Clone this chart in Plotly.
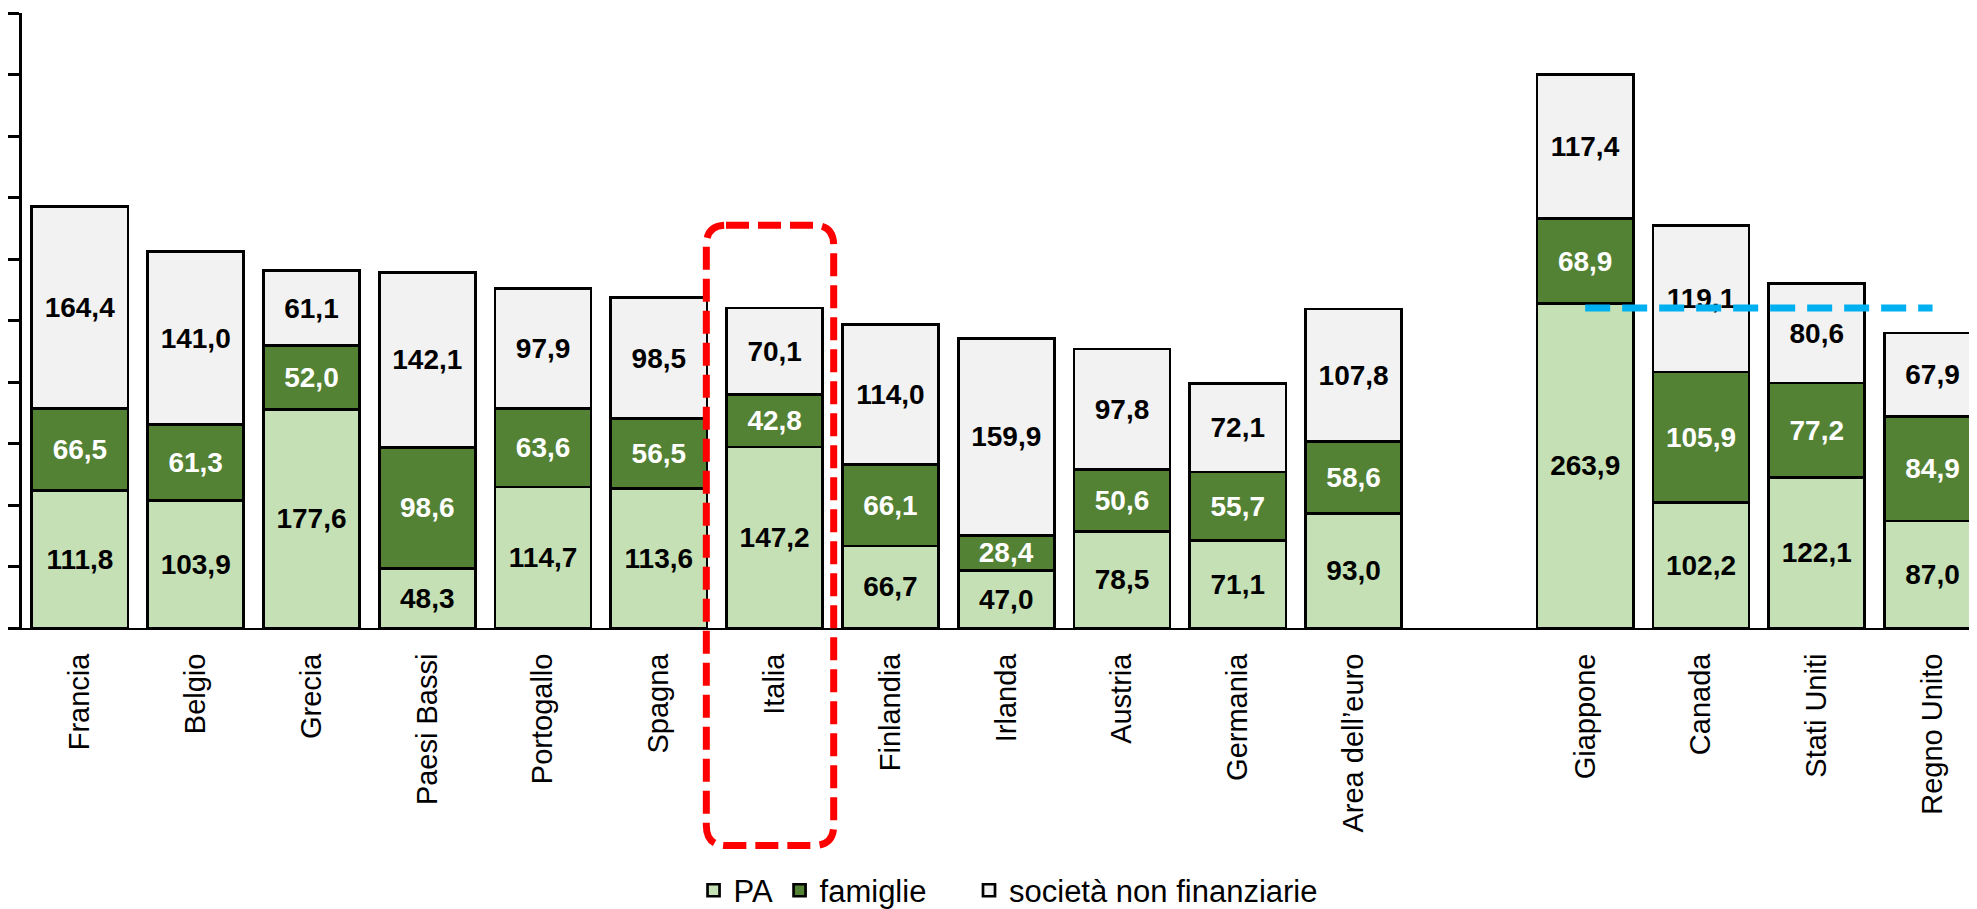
import plotly.graph_objects as go

# ---- data ----
categories = ["Francia", "Belgio", "Grecia", "Paesi Bassi", "Portogallo", "Spagna", "Italia",
              "Finlandia", "Irlanda", "Austria", "Germania", "Area dell’euro", " ",
              "Giappone", "Canada", "Stati Uniti", "Regno Unito"]
pa = [111.8, 103.9, 177.6, 48.3, 114.7, 113.6, 147.2, 66.7, 47.0, 78.5, 71.1, 93.0, None,
      263.9, 102.2, 122.1, 87.0]
famiglie = [66.5, 61.3, 52.0, 98.6, 63.6, 56.5, 42.8, 66.1, 28.4, 50.6, 55.7, 58.6, None,
            68.9, 105.9, 77.2, 84.9]
societa = [164.4, 141.0, 61.1, 142.1, 97.9, 98.5, 70.1, 114.0, 159.9, 97.8, 72.1, 107.8, None,
           117.4, 119.1, 80.6, 67.9]
series_names = ["PA", "famiglie", "società non finanziarie"]

# ---- styles ----
FONT = "Liberation Sans Narrow, Arial Narrow, Liberation Sans, Arial, sans-serif"
colors = ["#C5E0B4", "#548235", "#F2F2F2"]
text_colors = ["#000000", "#FFFFFF", "#000000"]
legend_ids = ["legend", "legend2", "legend3"]
legend_x = [0.3435, 0.3875, 0.4844]

fig = go.Figure()
for name, vals, col, tcol, lid in zip(series_names, [pa, famiglie, societa], colors,
                                      text_colors, legend_ids):
    fig.add_trace(go.Bar(
        x=categories, y=vals, name=name, legend=lid,
        marker=dict(color=col, line=dict(color="#000000", width=2.7)),
        texttemplate="%{y:.1f}", textposition="inside", insidetextanchor="middle",
        textangle=0, constraintext="none",
        textfont=dict(family=FONT, size=28, color=tcol, weight="bold"),
        hoverinfo="skip",
    ))

# blue dashed reference line at Italy's total, from Giappone to Regno Unito
ita = categories.index("Italia")
ita_total = pa[ita] + famiglie[ita] + societa[ita]
fig.add_trace(go.Scatter(
    x=["Giappone", "Regno Unito"], y=[ita_total, ita_total], mode="lines",
    line=dict(color="#00B0F0", width=7, dash="25px,12px"),
    showlegend=False, hoverinfo="skip",
))

# red dashed rounded box around Italia
x0, x1 = ita - 0.59, ita + 0.51
yb, yt = -0.3537, 0.655
rx, ry = 0.17, 0.0326
path = (f"M{x0+rx},{yt} L{x1-rx},{yt} Q{x1},{yt} {x1},{yt-ry} L{x1},{yb+ry} "
        f"Q{x1},{yb} {x1-rx},{yb} L{x0+rx},{yb} Q{x0},{yb} {x0},{yb+ry} "
        f"L{x0},{yt-ry} Q{x0},{yt} {x0+rx},{yt} Z")
fig.add_shape(type="path", path=path, xref="x", yref="paper",
              line=dict(color="#FF0000", width=7, dash="23px,9px"), layer="above")

legend_style = dict(orientation="h", xanchor="left", y=-0.427, yanchor="middle",
                    font=dict(family=FONT, size=31, color="#000000"),
                    bgcolor="rgba(0,0,0,0)")

# the page body adds an 8px offset; size the figure so it ends at the window edges
fig.update_layout(
    width=1969, height=901,
    margin=dict(l=14, r=0, t=5, b=281, autoexpand=False),
    barmode="stack", bargap=0.17,
    separators=",.",
    plot_bgcolor="#FFFFFF", paper_bgcolor="#FFFFFF",
    font=dict(family=FONT, color="#000000"),
    uniformtext=dict(minsize=28, mode="show"),
    showlegend=True,
    legend=dict(x=legend_x[0], **legend_style),
    legend2=dict(x=legend_x[1], **legend_style),
    legend3=dict(x=legend_x[2], **legend_style),
)
fig.update_xaxes(
    type="category", range=[-0.5, 16.384], automargin=False,
    showline=True, linecolor="#000000", linewidth=2, mirror=False,
    ticks="", tickangle=-90, ticklabelstandoff=12,
    tickfont=dict(family=FONT, size=29, color="#000000"),
    showgrid=False, zeroline=False,
)
fig.update_yaxes(
    range=[0, 500], dtick=50, tick0=0, automargin=False,
    showline=True, linecolor="#000000", linewidth=3,
    ticks="outside", ticklen=11, tickwidth=2.5, tickcolor="#000000",
    showticklabels=False, showgrid=False, zeroline=False,
)

fig.write_html("out.html")
